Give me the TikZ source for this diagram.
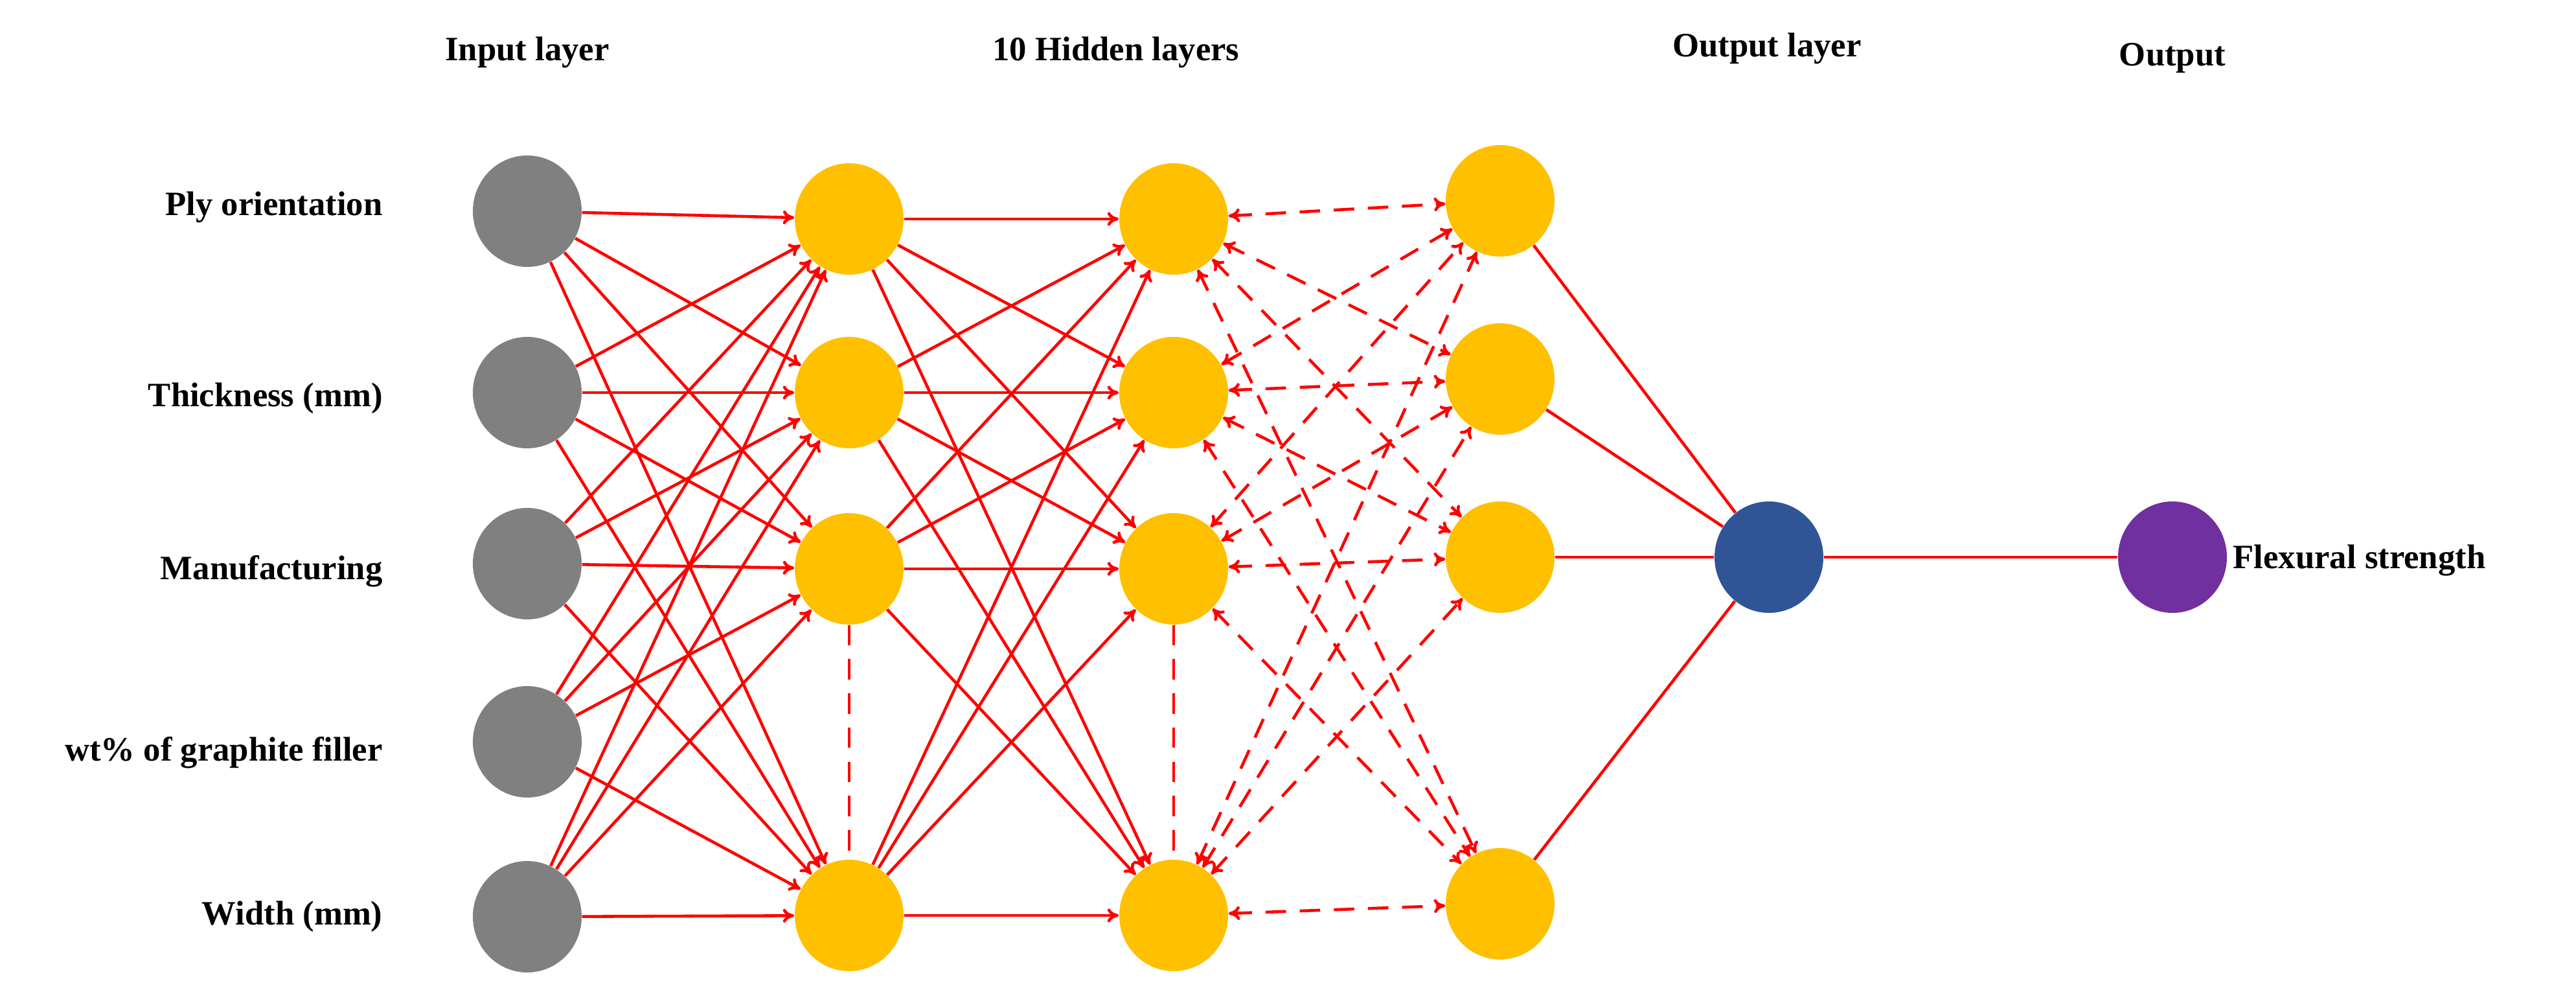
\documentclass[tikz,border=0pt]{standalone}
\usepackage{fontspec}
\setmainfont{Liberation Serif}
\usetikzlibrary{shapes.geometric,arrows.meta}
\definecolor{gr}{HTML}{808080}
\definecolor{yl}{HTML}{FFC000}
\definecolor{bl}{HTML}{2F5597}
\definecolor{pu}{HTML}{7030A0}
\begin{document}
\begin{tikzpicture}[x=1cm,y=-1cm,
  neu/.style={ellipse,minimum width=1.68cm,minimum height=1.72cm,inner sep=0pt},
  lab/.style={font=\fontsize{15}{17}\selectfont\bfseries},
  con/.style={red,line width=1.3pt,-{To[length=5pt,width=6pt]}},
  dcon/.style={red,line width=1.3pt,dash pattern=on 9pt off 6pt,{To[length=5pt,width=6pt]}-{To[length=5pt,width=6pt]}},
  vd/.style={red,line width=1.3pt,dash pattern=on 9pt off 6pt}]
\useasboundingbox (0,0) rectangle (39.77,15.25);
\foreach \y [count=\i] in {3.26,6.06,8.70,11.45,14.15} \node[neu,fill=gr] (i\i) at (8.14,\y) {};
\foreach \y [count=\i] in {3.38,6.06,8.78,14.13} {
  \node[neu,fill=yl] (a\i) at (13.11,\y) {};
  \node[neu,fill=yl] (b\i) at (18.12,\y) {};}
\foreach \y [count=\i] in {3.10,5.85,8.60,13.95} \node[neu,fill=yl] (c\i) at (23.16,\y) {};
\node[neu,fill=bl] (o) at (27.31,8.60) {};
\node[neu,fill=pu] (f) at (33.54,8.60) {};
\foreach \i in {1,...,5} \foreach \j in {1,...,4} \draw[con] (i\i) -- (a\j);
\foreach \i in {1,...,4} \foreach \j in {1,...,4} \draw[con] (a\i) -- (b\j);
\foreach \i in {1,...,4} \foreach \j in {1,...,4} \draw[dcon] (b\i) -- (c\j);
\foreach \i in {1,...,4} \draw[red,line width=1.3pt] (c\i) -- (o);
\draw[red,line width=1.3pt] (o) -- (f);
\draw[vd] (a3) -- (a4);
\draw[vd] (b3) -- (b4);
\node[lab] (t1) at (8.14,0.81) {Input layer};
\node[lab] (t2) at (17.23,0.81) {10 Hidden layers};
\node[lab] (t3) at (27.28,0.75) {Output layer};
\node[lab] (t4) at (33.54,0.90) {Output};
\node[lab,anchor=east] (l1) at (6.03,3.20) {Ply orientation};
\node[lab,anchor=east] (l2) at (6.03,6.15) {Thickness (mm)};
\node[lab,anchor=east] (l3) at (6.03,8.82) {Manufacturing};
\node[lab,anchor=east] (l4) at (6.03,11.62) {wt\% of graphite filler};
\node[lab,anchor=east] (l5) at (6.03,14.15) {Width (mm)};
\node[lab,anchor=west] (l6) at (34.35,8.65) {Flexural strength};
\end{tikzpicture}
\end{document}
